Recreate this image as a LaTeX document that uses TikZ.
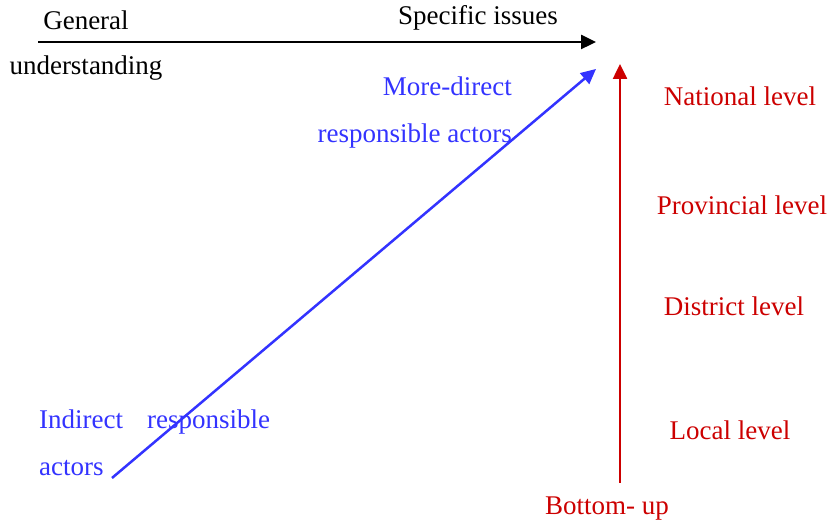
\documentclass[tikz,border=0pt]{standalone}
\usepackage{fontspec}
\setmainfont{Liberation Serif}
\usetikzlibrary{arrows.meta}
\definecolor{ActorClr}{rgb}{0.2,0.2,1}
\definecolor{LevelClr}{rgb}{0.8,0,0}

\tikzset{
  lbl/.style={inner sep=0pt,font=\fontsize{27}{47}\selectfont},
  actor/.style={lbl,text=ActorClr},
  level/.style={lbl,text=LevelClr},
}

\begin{document}
\begin{tikzpicture}[x=1pt,y=1pt]
\useasboundingbox (0,0) rectangle (830,526);

% end points of the three axes
\coordinate (GenStart) at (38,484);
\coordinate (GenEnd) at (596,484);
\coordinate (ActStart) at (112,48);
\coordinate (ActEnd) at (596,457);
\coordinate (LvlStart) at (620,43);
\coordinate (LvlEnd) at (620,462);

\draw[line width=2.5pt,-{Triangle[length=15pt,width=14pt]}] (GenStart) -- (GenEnd);
\draw[line width=2.5pt,color=ActorClr,-{Triangle[length=15pt,width=14pt]}] (ActStart) -- (ActEnd);
\draw[line width=2.5pt,color=LevelClr,-{Triangle[length=15pt,width=14pt]}] (LvlStart) -- (LvlEnd);

% labels of the top axis
\node[lbl] (general) at (86,506) {General};
\node[lbl] (understanding) at (86,458) {understanding};
\node[lbl] (specific) at (478,508) {Specific issues};

% labels of the diagonal axis
\node[actor,align=right,anchor=north east] (direct) at (512,449) {More-direct\\responsible actors};
\node[actor,align=left,anchor=north west] (indirect) at (39,116) {Indirect\hspace{24pt}responsible\\actors};

% levels along the vertical axis
\node[level] (national) at (740,430) {National level};
\node[level] (provincial) at (742,321) {Provincial level};
\node[level] (district) at (734,220) {District level};
\node[level] (local) at (730,96) {Local level};
\node[level] (bottom) at (607,17) {Bottom- up};

\end{tikzpicture}
\end{document}
